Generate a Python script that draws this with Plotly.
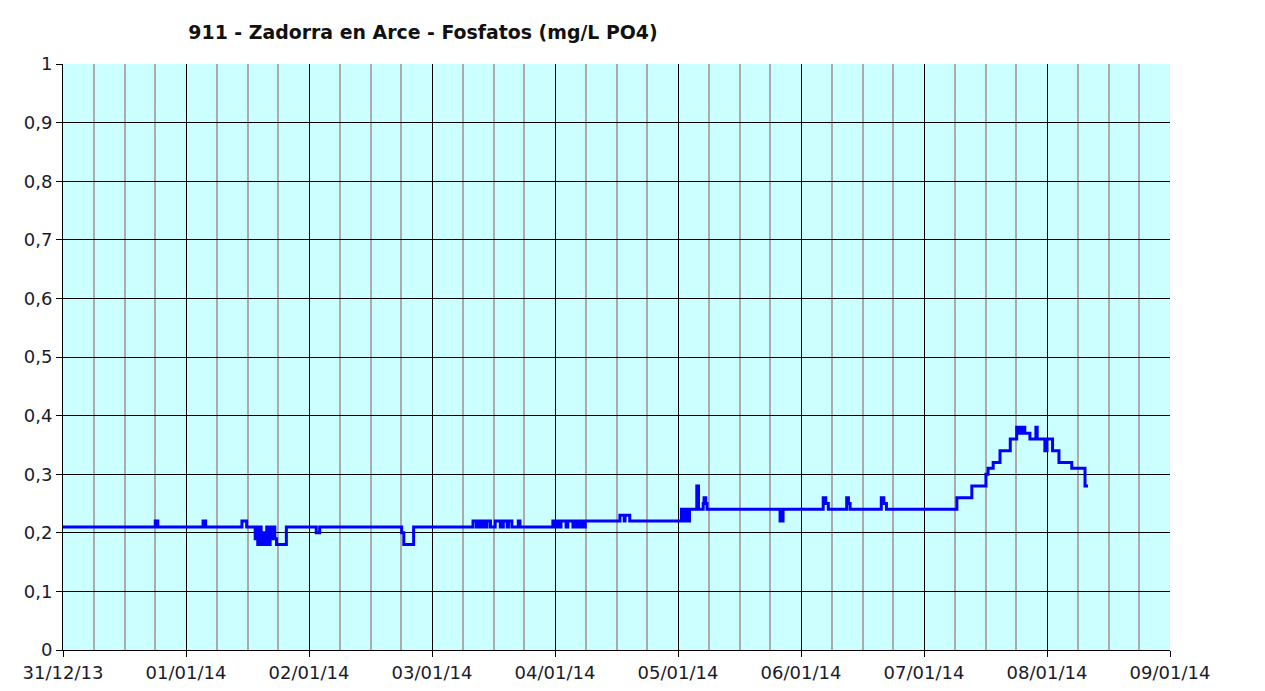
import plotly.graph_objects as go

title_text = "911 - Zadorra en Arce - Fosfatos (mg/L PO4)"

times = [
    "2013-12-31 00:00", "2013-12-31 18:00", "2013-12-31 18:30",
    "2014-01-01 03:20", "2014-01-01 03:50", "2014-01-01 10:55", "2014-01-01 11:50",
    "2014-01-01 13:30", "2014-01-01 13:45", "2014-01-01 14:00", "2014-01-01 14:25",
    "2014-01-01 14:40", "2014-01-01 15:05", "2014-01-01 15:20", "2014-01-01 15:45",
    "2014-01-01 16:05", "2014-01-01 16:25", "2014-01-01 16:45", "2014-01-01 17:05",
    "2014-01-01 17:20", "2014-01-01 17:40", "2014-01-01 19:35",
    "2014-01-02 01:25", "2014-01-02 02:05",
    "2014-01-02 18:05", "2014-01-02 18:30", "2014-01-02 20:25",
    "2014-01-03 08:00", "2014-01-03 08:40", "2014-01-03 08:55", "2014-01-03 09:25",
    "2014-01-03 10:00", "2014-01-03 10:30", "2014-01-03 10:45", "2014-01-03 11:25",
    "2014-01-03 12:20", "2014-01-03 13:20", "2014-01-03 13:55", "2014-01-03 14:40",
    "2014-01-03 14:55", "2014-01-03 15:35", "2014-01-03 16:50", "2014-01-03 17:10",
    "2014-01-03 23:35", "2014-01-04 00:05", "2014-01-04 00:20", "2014-01-04 00:35",
    "2014-01-04 01:10", "2014-01-04 02:10", "2014-01-04 02:30", "2014-01-04 03:30",
    "2014-01-04 03:55", "2014-01-04 04:30", "2014-01-04 04:45", "2014-01-04 05:20",
    "2014-01-04 05:55",
    "2014-01-04 12:40", "2014-01-04 13:30", "2014-01-04 13:40", "2014-01-04 14:35",
    "2014-01-05 00:40", "2014-01-05 00:55", "2014-01-05 01:10", "2014-01-05 01:25",
    "2014-01-05 01:40", "2014-01-05 01:55", "2014-01-05 02:15",
    "2014-01-05 03:40", "2014-01-05 04:00",
    "2014-01-05 04:55", "2014-01-05 05:05", "2014-01-05 05:25", "2014-01-05 05:40",
    "2014-01-05 19:55", "2014-01-05 20:30",
    "2014-01-06 04:20", "2014-01-06 04:50", "2014-01-06 05:20",
    "2014-01-06 08:55", "2014-01-06 09:15", "2014-01-06 09:35",
    "2014-01-06 15:40", "2014-01-06 16:10", "2014-01-06 16:40",
    "2014-01-07 06:25", "2014-01-07 09:20", "2014-01-07 12:05", "2014-01-07 12:30",
    "2014-01-07 13:30", "2014-01-07 14:50", "2014-01-07 16:50", "2014-01-07 18:05",
    "2014-01-07 18:20", "2014-01-07 18:35", "2014-01-07 18:50", "2014-01-07 19:05",
    "2014-01-07 19:40", "2014-01-07 20:40", "2014-01-07 21:50", "2014-01-07 22:05",
    "2014-01-07 23:35", "2014-01-08 00:00", "2014-01-08 01:05", "2014-01-08 02:20",
    "2014-01-08 04:50", "2014-01-08 07:25", "2014-01-08 08:00",
]

fosfatos = [
    0.21, 0.22, 0.21,
    0.22, 0.21, 0.22, 0.21,
    0.19, 0.21, 0.18, 0.21,
    0.18, 0.20, 0.18, 0.21,
    0.18, 0.21, 0.19, 0.21,
    0.19, 0.18, 0.21,
    0.20, 0.21,
    0.20, 0.18, 0.21,
    0.22, 0.21, 0.22, 0.21,
    0.22, 0.21, 0.22, 0.21,
    0.22, 0.21, 0.22, 0.21,
    0.22, 0.21, 0.22, 0.21,
    0.22, 0.21, 0.22, 0.21,
    0.22, 0.21, 0.22, 0.21,
    0.22, 0.21, 0.22, 0.21,
    0.22,
    0.23, 0.22, 0.23, 0.22,
    0.24, 0.22, 0.24, 0.22,
    0.24, 0.22, 0.24,
    0.28, 0.24,
    0.25, 0.26, 0.25, 0.24,
    0.22, 0.24,
    0.26, 0.25, 0.24,
    0.26, 0.25, 0.24,
    0.26, 0.25, 0.24,
    0.26, 0.28, 0.30, 0.31,
    0.32, 0.34, 0.36, 0.38,
    0.37, 0.38, 0.37, 0.38,
    0.37, 0.36, 0.38, 0.36,
    0.34, 0.36, 0.34, 0.32,
    0.31, 0.28, 0.28,
]

x_range = ["2013-12-31 00:00", "2014-01-09 00:00"]
y_ticks = [0, 0.1, 0.2, 0.3, 0.4, 0.5, 0.6, 0.7, 0.8, 0.9, 1]

fig = go.Figure()
fig.add_trace(go.Scatter(
    x=times, y=fosfatos, mode="lines", line_shape="hv",
    line=dict(color="#0000FF", width=3), showlegend=False,
))

tick_font = dict(family="DejaVu Sans", size=18, color="#1a1a2a")

fig.update_layout(
    width=1265, height=691,
    margin=dict(l=55, r=103, t=56, b=49),
    paper_bgcolor="#FFFFFF",
    plot_bgcolor="#CCFFFF",
    separators=",.",
    title=dict(
        text="<b>" + title_text + "</b>",
        font=dict(family="DejaVu Sans", size=18.9, color="#111111"),
        x=415 / 1265, xref="container", xanchor="center",
        y=1 - 24 / 691, yref="container", yanchor="middle",
    ),
    xaxis=dict(
        type="date", range=x_range, automargin=False,
        dtick=86400000, tick0="2013-12-31",
        tickformat="%d/%m/%y",
        showgrid=True, gridcolor="#000000", gridwidth=1,
        minor=dict(dtick=6 * 3600000, showgrid=True, gridcolor="#ABABAB", gridwidth=2, ticks=""),
        ticks="outside", ticklen=6, tickcolor="#000000", tickwidth=1,
        showline=True, linecolor="#000000", linewidth=1,
        tickfont=tick_font, zeroline=False,
    ),
    yaxis=dict(
        range=[0, 1], tickvals=y_ticks, automargin=False,
        showgrid=True, gridcolor="#000000", gridwidth=1,
        ticks="outside", ticklen=6, tickcolor="#000000", tickwidth=1,
        showline=True, linecolor="#000000", linewidth=1,
        tickfont=tick_font, zeroline=False,
    ),
)

fig.write_html("out.html")
